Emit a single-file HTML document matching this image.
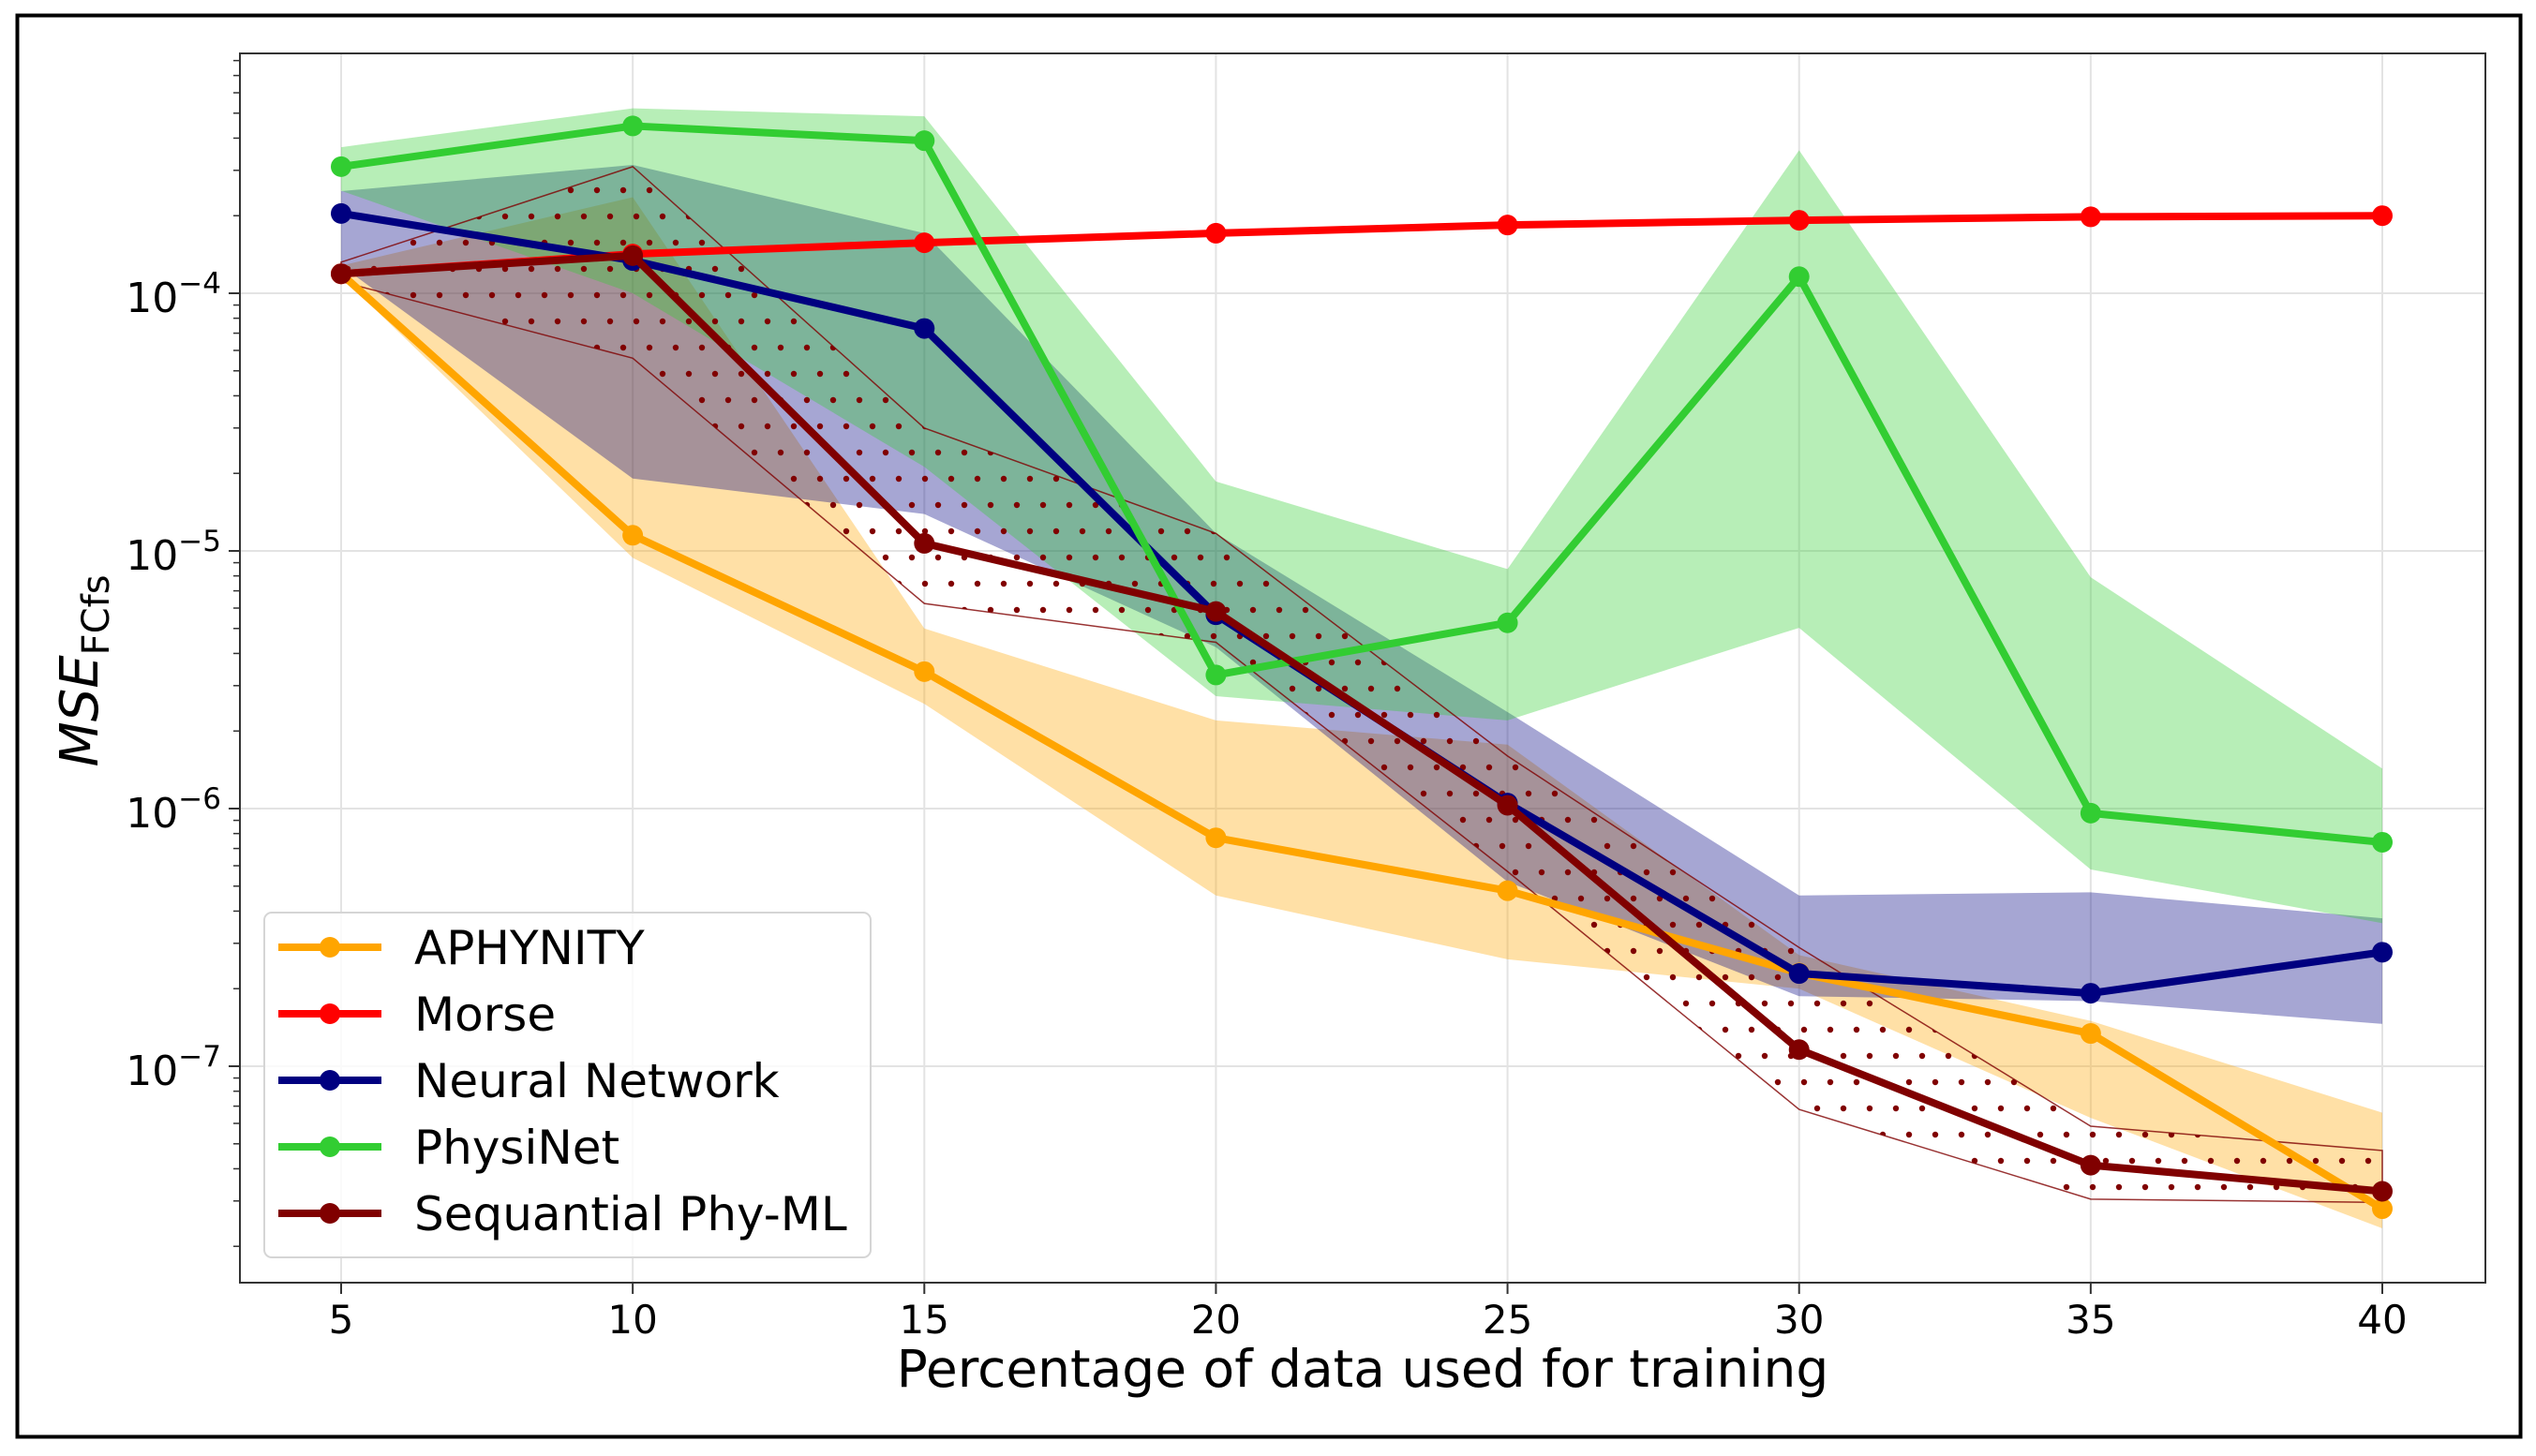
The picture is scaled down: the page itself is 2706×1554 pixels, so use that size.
<!DOCTYPE html>
<html><head><meta charset="utf-8">
<style>
html,body{margin:0;padding:0;background:#fff;}
svg{display:block;font-family:"DejaVu Sans","Liberation Sans",sans-serif;}
</style></head>
<body>
<svg id="chart" width="2706" height="1554" viewBox="0 0 2706 1554" xmlns="http://www.w3.org/2000/svg">
<defs>
<pattern id="dots" patternUnits="userSpaceOnUse" width="28" height="56">
<circle cx="7" cy="7" r="3.2" fill="#800000"/>
<circle cx="21" cy="35" r="3.2" fill="#800000"/>
</pattern>
<clipPath id="plotclip"><rect x="256" y="57" width="2396" height="1312"/></clipPath>
</defs>
<rect x="18.5" y="16.5" width="2671" height="1517" fill="#fff" stroke="#000" stroke-width="4"/>
<g id="grid"></g>
<g id="bands" clip-path="url(#plotclip)"></g>
<g id="lines" clip-path="url(#plotclip)"></g>
<rect x="256" y="57" width="2396" height="1312" fill="none" stroke="#333" stroke-width="2"/>
<g id="axes"></g>
<g id="legend"></g>
<text x="1454" y="1480" font-size="55" text-anchor="middle" fill="#000">Percentage of data used for training</text>
<text transform="translate(104,716) rotate(-90)" font-size="56" text-anchor="middle" fill="#000"><tspan font-style="italic">MSE</tspan><tspan font-size="40" dy="12">FCfs</tspan></text>
</svg>
<script>
const xValues = [5, 10, 15, 20, 25, 30, 35, 40];
const seriesNames = ["APHYNITY", "Morse", "Neural Network", "PhysiNet", "Sequantial Phy-ML"];
const aphynityMean = [1.19e-4, 1.15e-5, 3.4e-6, 7.7e-7, 4.8e-7, 2.3e-7, 1.34e-7, 2.8e-8];
const aphynityUpper = [1.28e-4, 2.36e-4, 5.0e-6, 2.2e-6, 1.77e-6, 2.7e-7, 1.5e-7, 6.6e-8];
const aphynityLower = [1.16e-4, 9.4e-6, 2.55e-6, 4.6e-7, 2.6e-7, 2.0e-7, 6.3e-8, 2.35e-8];
const morseMean = [1.19e-4, 1.42e-4, 1.57e-4, 1.71e-4, 1.84e-4, 1.92e-4, 1.98e-4, 2.0e-4];
const nnMean = [2.04e-4, 1.34e-4, 7.3e-5, 5.65e-6, 1.05e-6, 2.29e-7, 1.92e-7, 2.77e-7];
const nnUpper = [2.49e-4, 3.15e-4, 1.71e-4, 1.17e-5, 2.37e-6, 4.6e-7, 4.73e-7, 3.75e-7];
const nnLower = [1.28e-4, 1.91e-5, 1.39e-5, 4.23e-6, 5.2e-7, 1.87e-7, 1.79e-7, 1.46e-7];
const physiMean = [3.1e-4, 4.46e-4, 3.91e-4, 3.3e-6, 5.26e-6, 1.16e-4, 9.6e-7, 7.4e-7];
const physiUpper = [3.69e-4, 5.22e-4, 4.86e-4, 1.86e-5, 8.5e-6, 3.59e-4, 7.9e-6, 1.43e-6];
const physiLower = [2.5e-4, 1.0e-4, 2.12e-5, 2.73e-6, 2.2e-6, 5.03e-6, 5.8e-7, 3.59e-7];
const seqMean = [1.19e-4, 1.40e-4, 1.07e-5, 5.82e-6, 1.03e-6, 1.16e-7, 4.13e-8, 3.27e-8];
const seqUpper = [1.32e-4, 3.1e-4, 3.0e-5, 1.17e-5, 1.6e-6, 2.89e-7, 5.85e-8, 4.71e-8];
const seqLower = [1.11e-4, 5.6e-5, 6.25e-6, 4.42e-6, 5.7e-7, 6.8e-8, 3.05e-8, 2.96e-8];
const xTicks = [5, 10, 15, 20, 25, 30, 35, 40];
const yTickExps = [-4, -5, -6, -7];

const NS = "http://www.w3.org/2000/svg";
const PL = 256, PR = 2652, PT = 57, PB = 1369;
function xs(v){ return 364 + (v - 5) * (2542 - 364) / 35; }
function ys(v){ return 313 + (-4 - Math.log10(v)) * 275; }
function mk(tag, attrs, parent){ const e = document.createElementNS(NS, tag); for (const k in attrs) e.setAttribute(k, attrs[k]); parent.appendChild(e); return e; }

const grid = document.getElementById('grid');
const axes = document.getElementById('axes');
xTicks.forEach(t => {
  const gl = mk('line', {x1: xs(t), x2: xs(t), y1: PT, y2: PB, stroke: '#e3e3e3', 'stroke-width': 2}, grid);
  
  
  const tk = mk('line', {x1: xs(t), x2: xs(t), y1: PB, y2: PB + 12, stroke: '#333', 'stroke-width': 2}, axes);
  
  
  const tl = mk('text', {x: xs(t), y: 1423, 'font-size': 42, 'text-anchor': 'middle', fill: '#000'}, axes);
  tl.textContent = t;
  
  
});
yTickExps.forEach(e => {
  const y = ys(Math.pow(10, e));
  const gl = mk('line', {x1: PL, x2: PR, y1: y, y2: y, stroke: '#e3e3e3', 'stroke-width': 2}, grid);
  
  
  const tk = mk('line', {x1: PL - 12, x2: PL, y1: y, y2: y, stroke: '#333', 'stroke-width': 2}, axes);
  
  
  const tl = mk('text', {x: 236, y: y + 20, 'font-size': 44, 'text-anchor': 'end', fill: '#000'}, axes);
  
  
  const a = mk('tspan', {}, tl); a.textContent = '10';
  const b = mk('tspan', {dy: -20, 'font-size': 31}, tl); b.textContent = '\u2212' + (-e);
});
for (let e = -8; e <= -3; e++) {
  for (let m = 2; m <= 9; m++) {
    const y = ys(m * Math.pow(10, e));
    if (y < PT || y > PB) continue;
    const tk = mk('line', {x1: PL - 7, x2: PL, y1: y, y2: y, stroke: '#333', 'stroke-width': 1.5}, axes);
    
    
  }
}

const series = [
  {name: seriesNames[0], key: 'aphynity', color: '#FFA500', mean: aphynityMean, up: aphynityUpper, lo: aphynityLower, fill: 'rgba(255,165,0,0.35)'},
  {name: seriesNames[1], key: 'morse', color: '#FF0000', mean: morseMean},
  {name: seriesNames[2], key: 'neural-network', color: '#000080', mean: nnMean, up: nnUpper, lo: nnLower, fill: 'rgba(0,0,128,0.35)'},
  {name: seriesNames[3], key: 'physinet', color: '#32CD32', mean: physiMean, up: physiUpper, lo: physiLower, fill: 'rgba(50,205,50,0.35)'},
  {name: seriesNames[4], key: 'sequantial-phy-ml', color: '#800000', mean: seqMean, up: seqUpper, lo: seqLower, hatch: true}
];
const bands = document.getElementById('bands');
const lines = document.getElementById('lines');
series.forEach(s => {
  if (!s.up) return;
  let d = 'M' + xValues.map((x, i) => xs(x) + ',' + ys(s.up[i])).join('L');
  d += 'L' + xValues.slice().reverse().map((x, j) => { const i = xValues.length - 1 - j; return xs(x) + ',' + ys(s.lo[i]); }).join('L') + 'Z';
  let p;
  if (s.hatch) p = mk('path', {d: d, fill: 'url(#dots)', stroke: '#800000', 'stroke-width': 1.5, 'stroke-opacity': 0.8}, bands);
  else p = mk('path', {d: d, fill: s.fill, stroke: 'none'}, bands);
  
  
});
series.forEach(s => {
  const pl = mk('polyline', {points: xValues.map((x, i) => xs(x) + ',' + ys(s.mean[i])).join(' '), fill: 'none', stroke: s.color, 'stroke-width': 8, 'stroke-linejoin': 'round', 'stroke-linecap': 'square'}, lines);
  
  
  xValues.forEach((x, i) => {
    const c = mk('circle', {cx: xs(x), cy: ys(s.mean[i]), r: 11, fill: s.color}, lines);
    
    
  });
});

const legend = document.getElementById('legend');


const lb = mk('rect', {x: 282, y: 974, width: 647, height: 368, rx: 8, fill: 'rgba(255,255,255,0.8)', stroke: '#d5d5d5', 'stroke-width': 2}, legend);


const rowsY = [1011, 1082, 1153, 1224, 1295];
series.forEach((s, i) => {
  const g = mk('g', {}, legend);
  
  
  mk('line', {x1: 297, x2: 407, y1: rowsY[i], y2: rowsY[i], stroke: s.color, 'stroke-width': 8}, g);
  mk('circle', {cx: 352, cy: rowsY[i], r: 11, fill: s.color}, g);
  const t = mk('text', {x: 442, y: rowsY[i] + 18, 'font-size': 50, fill: '#000'}, g);
  t.textContent = s.name;
});
</script>
</body></html>
